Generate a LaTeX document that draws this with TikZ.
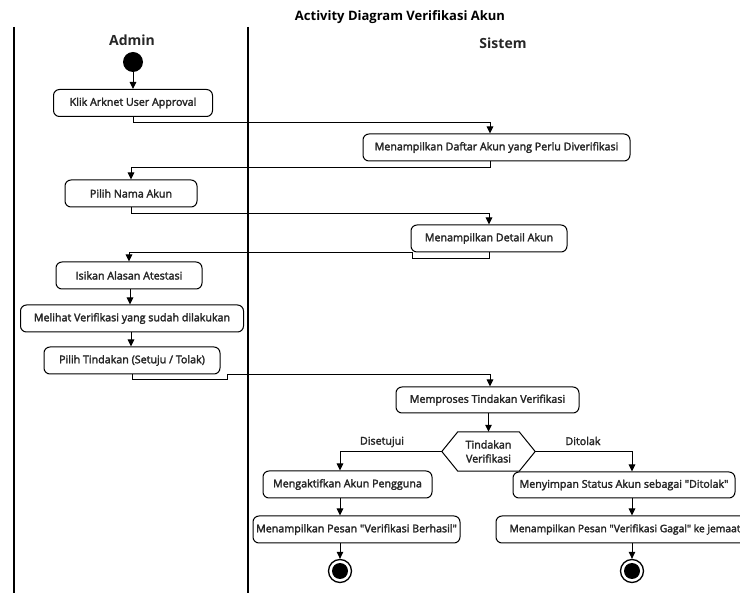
\documentclass[tikz,border=0pt]{standalone}
\usepackage{fontspec}
\setmainfont{Open Sans}
\newfontfamily\boxfont{Open Sans}[FakeBold=2.5]
\usetikzlibrary{arrows.meta,calc}
\begin{document}
\begin{tikzpicture}[x=1pt,y=-1pt,
  act/.style={draw, rounded corners=6pt, line width=1pt, minimum height=27pt,
    inner sep=0pt, font=\boxfont\fontsize{10.7}{12}\selectfont, text=black!85},
  flow/.style={line width=1pt, -{Triangle[length=7pt,width=6.5pt]}},
  lane/.style={line width=1.5pt},
  lbl/.style={font=\boxfont\fontsize{10.7}{12}\selectfont, text=black!85},
  startnode/.style={circle, fill, minimum size=20pt, inner sep=0pt},
  endnode/.style={circle, draw, line width=1.3pt, minimum size=23pt, inner sep=0pt},
]
\useasboundingbox (0,0) rectangle (740,593);

% title and swimlanes
\node[font=\bfseries\fontsize{13}{15}\selectfont] (title) at (400,17) {Activity Diagram Verifikasi Akun};
\draw[lane] (14,27) -- (14,593);
\draw[lane] (248,27) -- (248,593);
\node[font=\bfseries\fontsize{14}{17}\selectfont, text=black!85] (admin) at (132,40) {Admin};
\node[font=\bfseries\fontsize{14}{17}\selectfont, text=black!85] (sistem) at (503,43) {Sistem};

% actions
\node[startnode] (s) at (133,62) {};
\node[act, minimum width=159pt] (b1) at (133,103) {Klik Arknet User Approval};
\node[act, minimum width=267pt] (b2) at (496.5,147.5) {Menampilkan Daftar Akun yang Perlu Diverifikasi};
\node[act, minimum width=132pt] (b3) at (131,193.5) {Pilih Nama Akun};
\node[act, minimum width=156pt] (b4) at (489,238.5) {Menampilkan Detail Akun};
\node[act, minimum width=146pt] (b5) at (129,275.5) {Isikan Alasan Atestasi};
\node[act, minimum width=223pt] (b6) at (132,318.5) {Melihat Verifikasi yang sudah dilakukan};
\node[act, minimum width=176pt] (b7) at (132,360.5) {Pilih Tindakan (Setuju / Tolak)};
\node[act, minimum width=183pt, minimum height=26pt] (b8) at (487.5,400) {Memproses Tindakan Verifikasi};

% decision
\node[minimum width=93pt, minimum height=39pt, inner sep=0pt, align=center, text=black!85,
  font=\boxfont\fontsize{10.7}{14}\selectfont] (dec) at (488.5,451.5) {Tindakan\\Verifikasi};
\draw[line width=1pt] (dec.west) -- ([xshift=16pt]dec.north west) -- ([xshift=-16pt]dec.north east)
  -- (dec.east) -- ([xshift=-16pt]dec.south east) -- ([xshift=16pt]dec.south west) -- cycle;

\node[act, minimum width=169pt] (b9) at (347.5,484.5) {Mengaktifkan Akun Pengguna};
\node[act, minimum width=207pt] (b10) at (356.5,529.5) {Menampilkan Pesan "Verifikasi Berhasil"};
\node[act, minimum width=222pt, minimum height=26pt] (b11) at (624,485) {Menyimpan Status Akun sebagai "Ditolak"};
\node[act, minimum width=252pt, font=\boxfont\fontsize{10.3}{12}\selectfont] (b12) at (622,529.5)
  {\hspace*{6pt}Menampilkan Pesan "Verifikasi Gagal" ke jemaat};

\node[endnode] (e1) at (340,571) {};
\fill (e1.center) circle (8pt);
\node[endnode] (e2) at (632,571) {};
\fill (e2.center) circle (8pt);

% flows
\draw[flow] (s) -- (b1);
\draw[flow] (b1.south) -- ++(0,6) -| ([xshift=-6.5pt]b2.north);
\draw[flow] ([xshift=-6.5pt]b2.south) -- ++(0,6) -| (b3.north);
\draw[flow] (b3.south) -- ++(0,6) -| (b4.north);
\draw[flow] (b4.south) -- ++(0,6) -| ([xshift=2pt]b4.south west) -| (b5.north);
\draw[flow] ([xshift=1pt]b5.south) -- ([xshift=1pt]b5.south |- b6.north);
\draw[flow] ([xshift=-1pt]b6.south) -- ([xshift=-1pt]b6.south |- b7.north);
\draw[flow] (b7.south) -- ++(0,5) -| ([xshift=7pt]b7.south east) -| ([xshift=2.5pt]b8.north);
\draw[flow] (b8.south -| dec.north) -- (dec.north);
\draw[flow] (dec.west) -| ([xshift=-7.5pt]b9.north);
\draw[flow] (dec.east) -| ([xshift=8pt]b11.north);
\draw[flow] ([xshift=-7.5pt]b9.south) -- ([xshift=-7.5pt]b9.south |- b10.north);
\draw[flow] (b10.south -| e1.north) -- (e1.north);
\draw[flow] ([xshift=10pt]b12.north |- b11.south) -- ([xshift=10pt]b12.north);
\draw[flow] ([xshift=10pt]b12.south) -- (e2.north);

% guard labels
\node[lbl] (yes) at (382,442) {Disetujui};
\node[lbl] (no) at (583,441) {Ditolak};
\end{tikzpicture}
\end{document}
